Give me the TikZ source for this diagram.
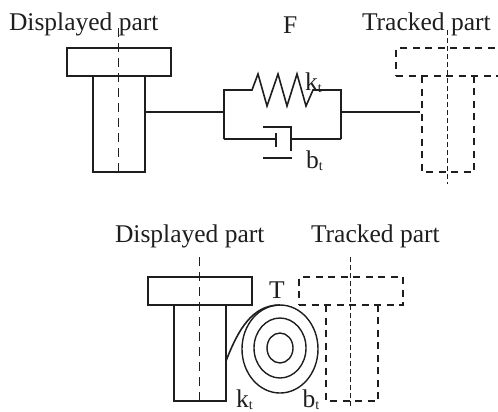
\documentclass[tikz,border=0pt]{standalone}
\usepackage{fontspec}
\setmainfont{Liberation Serif}
\usetikzlibrary{shapes.geometric}
\definecolor{inkdark}{RGB}{30,30,30}
\newcommand{\widthhead}{104bp}
\newcommand{\heighthead}{28bp}
\newcommand{\widthbody}{52bp}
\newcommand{\heightbody}{96bp}
\newcommand{\idx}[2]{#1\raisebox{-.2ex}{\fontsize{14}{14}\selectfont #2}}
\tikzset{
    common/.style={draw=inkdark, rectangle, line width=1.6bp, outer sep=0pt, inner sep=0pt},
    head/.style={common, anchor=north west, minimum width=\widthhead, minimum height=\heighthead},
    body/.style={common, anchor=north west, minimum width=\widthbody, minimum height=\heightbody},
    ghost/.style={dash pattern=on 7bp off 5.5bp},
    ghostbody/.style={anchor=north west, outer sep=0pt, inner sep=0pt, minimum width=\widthbody, minimum height=\heightbody},
    label/.style={anchor=base west, inner sep=0pt, outer sep=0pt, text=inkdark, font=\fontsize{25.6}{26}\selectfont},
    wire/.style={draw=inkdark, line width=1.6bp},
    axisline/.style={draw=inkdark, line width=1bp, dash pattern=on 9bp off 6bp},
    axisghost/.style={draw=inkdark, line width=1bp, dash pattern=on 5bp off 3bp},
    coil/.style={draw=inkdark, ellipse, line width=1.4bp, outer sep=0pt, inner sep=0pt}
}

\begin{document}
\begin{tikzpicture}[x=1bp, y=-1bp]
        \useasboundingbox (0,0) rectangle (498,411);

        % upper sketch
        \node[label] (dispA) at (9,30) {Displayed part};
        \node[label] (force) at (283,33) {F};
        \node[label] (trackA) at (362,30) {Tracked part};
        \node[head] (dispheadA) at (67,48) {};
        \node[body] (dispbodyA) at (93,76) {};
        \node[head, ghost] (trackheadA) at (396,48) {};
        \node[ghostbody] (trackbodyA) at (422,76) {};
        \node[label] (kA) at (305,90) {\idx{k}{t}};
        \node[label] (bA) at (306,168) {\idx{b}{t}};

        \coordinate (J1) at (224,112);
        \coordinate (J2) at (341,112);
        \coordinate (frameNW) at (224,90);
        \coordinate (frameSW) at (224,139);
        \coordinate (frameNE) at (341,90);
        \coordinate (frameSE) at (341,139);

        \draw[wire, ghost] (trackbodyA.north west) -- (trackbodyA.south west) -- (trackbodyA.south east) -- (trackbodyA.north east);
        \draw[axisline] (118,28) -- (118,174);
        \draw[axisghost] (447,30) -- (447,184);

        \draw[wire] (dispbodyA.east |- J1) -- (J1);
        \draw[wire, shorten >=2bp] (J2) -- (trackbodyA.west |- J2);
        \draw[wire] (frameSW) -- (frameNW) -- (252,90) -- (258,74) -- (267,106)
            -- (278,74) -- (287,106) -- (297,74) -- (306,106) -- (313,90) -- (frameNE) -- (frameSE);

        % damper
        \draw[wire] (frameSW) -- (276,139);
        \draw[wire] (276,133) -- (276,147);
        \draw[wire] (263,127) -- (291,127) -- (291,151);
        \draw[wire] (263,158) -- (292,158);
        \draw[wire] (291,139) -- (frameSE);

        % lower sketch
        \node[label] (dispB) at (115,242) {Displayed part};
        \node[label] (trackB) at (311,242) {Tracked part};
        \node[head] (dispheadB) at (148,277) {};
        \node[body] (dispbodyB) at (174,305) {};
        \node[head, ghost] (trackheadB) at (299,277) {};
        \node[ghostbody] (trackbodyB) at (326,305) {};
        \node[label] (T) at (269,298) {T};
        \node[label] (kB) at (236,407) {\idx{k}{t}};
        \node[label] (bB) at (302.5,407) {\idx{b}{t}};

        \node[coil, minimum width=76bp, minimum height=88bp] (coilouter) at (280,349) {};
        \node[coil, minimum width=52bp, minimum height=60bp] (coilmid) at (280,348) {};
        \node[coil, minimum width=26bp, minimum height=30bp] (coilinner) at (280,348) {};

        \coordinate (coilend) at (226,361);
        \draw[wire] (coilend) .. controls (238,330) and (252,305) .. (coilouter.north);

        \draw[wire, ghost] (trackbodyB.north west) -- (trackbodyB.south west) -- (trackbodyB.south east) -- (trackbodyB.north east);
        \draw[axisline] (199,257) -- (199,402);
        \draw[axisghost] (350,257) -- (350,408);
    \end{tikzpicture}
\end{document}
